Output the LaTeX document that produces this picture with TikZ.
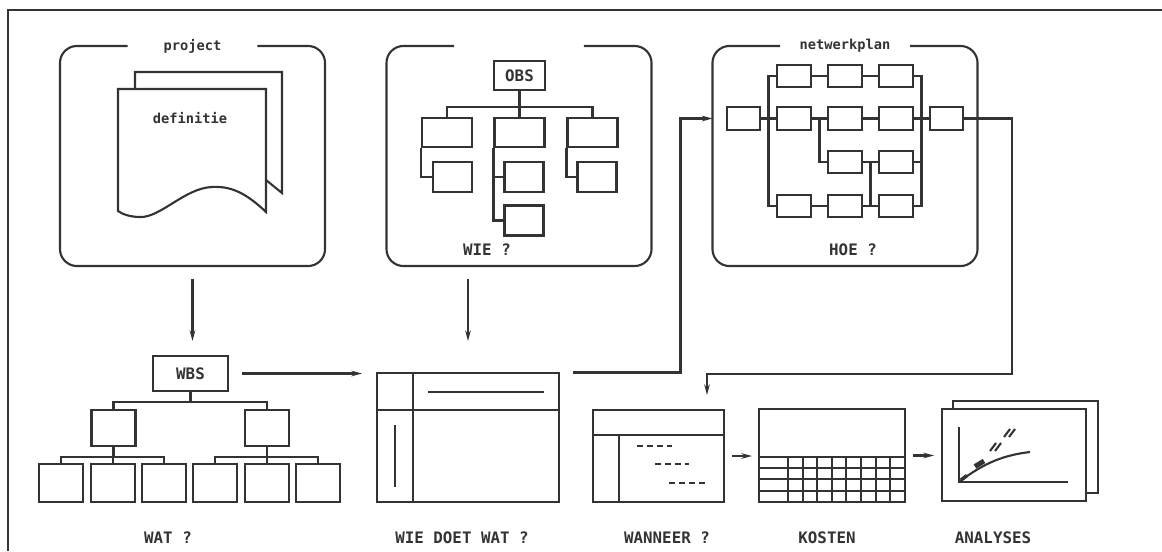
\documentclass[tikz,border=0pt]{standalone}
\usepackage{fontspec}
\setmainfont{DejaVu Sans Mono}
\usetikzlibrary{arrows.meta,calc}

\definecolor{lijn}{HTML}{333333}
\newcommand{\klein}{\fontsize{7.8pt}{9pt}\selectfont\bfseries}
\newcommand{\groot}{\fontsize{9pt}{11pt}\selectfont\bfseries}

\begin{document}
\begin{tikzpicture}[x=0.02cm,y=-0.02cm,color=lijn,line width=1.2pt,
  vak/.style={minimum width=5.26cm,minimum height=4.36cm,inner sep=0pt},
  blok/.style={draw,inner sep=0pt,minimum width=0.88cm,minimum height=0.74cm},
  kop/.style={draw,inner sep=0pt,minimum width=1.5cm,minimum height=0.7cm,font=\groot},
  obsblok/.style={draw,inner sep=0pt,minimum width=1cm,minimum height=0.58cm},
  subblok/.style={draw,inner sep=0pt,minimum width=0.78cm,minimum height=0.6cm},
  stap/.style={draw,inner sep=0pt,minimum width=0.67cm,minimum height=0.45cm},
  scherm/.style={draw,inner sep=0pt},
  titel/.style={font=\klein},
  vraag/.style={font=\groot},
  onder/.style={font=\groot},
  pijl/.style={-{Stealth[length=6pt,width=3.2pt]}}]

  \useasboundingbox (0,0) rectangle (1162,551);

  % kader
  \draw (8,551) -- (8,10) -- (1162,10);

  % drie vakken boven
  \node[vak] (project) at (192.5,156) {};
  \node[vak] (wie) at (519,156) {};
  \node[vak] (netwerk) at (845,156) {};
  \foreach \v in {project,wie,netwerk}
    \draw[rounded corners=0.34cm] ([xshift=-1.3cm]\v.north) -| (\v.south west)
      -| (\v.north east) -- ([xshift=1.3cm]\v.north);
  \node[titel] (t-project) at (project.north) {project};
  \node[titel] (t-netwerk) at (netwerk.north) {netwerkplan};

  % projectdefinitie
  \draw (135,89) -- (135,72) -- (282,72) -- (282,193) -- (266,180);
  \draw (118,89) -- (266,89) -- (266,212)
    .. controls (245,192) and (230,186) .. (212,187)
    .. controls (185,188) and (160,218) .. (140,217)
    .. controls (130,217) and (122,214) .. (118,211) -- cycle;
  \node[titel] (definitie) at (190,118) {definitie};

  % OBS
  \node[kop,minimum width=1.02cm,minimum height=0.58cm] (obs) at (519.5,75.5) {OBS};
  \node[obsblok] (o1) at (447,132.5) {};
  \node[obsblok] (o2) at (519.5,132.5) {};
  \node[obsblok] (o3) at (592.5,132.5) {};
  \foreach \o in {o1,o2,o3}
    \draw (obs.south) -- ++(0,16) -| (\o.north);
  \node[subblok] (o1a) at (452.5,177) {};
  \node[subblok] (o2a) at (524,177) {};
  \node[subblok] (o2b) at (524,220.5) {};
  \node[subblok] (o3a) at (597,177) {};
  \draw (o1.south west) |- (o1a.west);
  \draw (o2.south west) |- (o2a.west);
  \draw (o2.south west) |- (o2b.west);
  \draw (o3.south west) |- (o3a.west);
  \node[vraag] (wie-vraag) at (487,250) {WIE ?};

  % netwerkplan
  \node[stap] (nstart) at (743.5,118.5) {};
  \node[stap] (a1) at (794,76) {};
  \node[stap] (a2) at (845,76) {};
  \node[stap] (a3) at (896,76) {};
  \node[stap] (b1) at (794,118.5) {};
  \node[stap] (b2) at (845,118.5) {};
  \node[stap] (b3) at (896,118.5) {};
  \node[stap] (c2) at (845,162) {};
  \node[stap] (c3) at (896,162) {};
  \node[stap] (d1) at (794,206) {};
  \node[stap] (d2) at (845,206) {};
  \node[stap] (d3) at (896,206) {};
  \node[stap] (neind) at (946.5,118.5) {};
  \coordinate (links) at (768.5,118.5);
  \coordinate (rechts) at (921.5,118.5);
  \coordinate (splits1) at (819.5,118.5);
  \coordinate (splits2) at (870.5,162);
  \draw (nstart) -- (b1) -- (b2) -- (b3) -- (neind);
  \draw (a1) -- (a2) -- (a3);
  \draw (d1) -- (d2) -- (d3);
  \draw (c2) -- (c3);
  \draw (a1.west) -| (links) |- (d1.west);
  \draw (a3.east) -| (rechts) |- (d3.east);
  \draw (c3.east) -- (c3.east -| rechts);
  \draw (splits1) |- (c2.west);
  \draw (splits2) -- (splits2 |- d2.east);
  \node[vraag] (hoe-vraag) at (853,250) {HOE ?};

  % WBS
  \node[kop] (wbs) at (190.5,373.5) {WBS};
  \node[blok,minimum height=0.72cm] (w1) at (113.5,428) {};
  \node[blok,minimum height=0.72cm] (w2) at (267,428) {};
  \foreach \w in {w1,w2}
    \draw (wbs.south) -- ++(0,10) -| (\w.north);
  \foreach \x/\n in {61/1,113/2,164/3}
    \node[blok,minimum height=0.76cm] (w1\n) at (\x,483) {};
  \foreach \x/\n in {215/1,267/2,318/3}
    \node[blok,minimum height=0.76cm] (w2\n) at (\x,483) {};
  \foreach \n in {1,2,3} {
    \draw (w1.south) -- ++(0,10) -| (w1\n.north);
    \draw (w2.south) -- ++(0,10) -| (w2\n.north);
  }

  % wie doet wat
  \node[scherm,minimum width=3.64cm,minimum height=2.58cm] (tabel) at (468,437.5) {};
  \draw (413,373) -- (413,502);
  \draw (377,410) -- (559,410);
  \draw (428,392) -- (544,392);
  \draw (395,425) -- (395,487);

  % planning
  \node[scherm,minimum width=2.62cm,minimum height=1.84cm] (planning) at (658.5,456) {};
  \draw (593,435) -- (724,435);
  \draw (619,435) -- (619,502);
  \draw[dash pattern=on 0.12cm off 0.08cm] (637,446) -- (672,446);
  \draw[dash pattern=on 0.12cm off 0.08cm] (655,464) -- (689,464);
  \draw[dash pattern=on 0.12cm off 0.08cm] (669,483) -- (705,483);

  % kosten
  \node[scherm,minimum width=2.92cm,minimum height=1.86cm] (kosten) at (832,455.5) {};
  \foreach \y in {457,468,479,491}
    \draw (759,\y) -- (905,\y);
  \foreach \i in {0,...,7}
    \draw (788+\i*14.6,457) -- (788+\i*14.6,502);

  % analyses
  \draw (953,401) rectangle (1098,493);
  \node[scherm,fill=white,minimum width=2.88cm,minimum height=1.84cm] (analyses) at (1014,455) {};
  \draw (959,427) |- (1068,482);
  \draw (959,482) .. controls (985,462) and (1005,455) .. (1030,452);
  \draw[line width=2.8pt] (975,466.5) -- (984,461);
  \draw[line width=2pt] (961,480) -- (967,475.5);
  \foreach \dx in {0,5} {
    \draw (990+\dx,451) -- (996+\dx,443);
    \draw (1004+\dx,437) -- (1010+\dx,429);
  }

  % pijlen
  \draw[pijl,shorten <=0.26cm,shorten >=0.28cm] (project.south) -- (project.south |- wbs.north);
  \draw[pijl,shorten <=0.26cm,shorten >=0.62cm] (tabel.north |- wie.south) -- (tabel.north);
  \draw[pijl,shorten <=0.26cm,shorten >=0.28cm] (wbs.east) -- (wbs.east -| tabel.west);
  \draw[pijl] ($(tabel.north east)+(13,0.5)$) -| ($(netwerk.west |- nstart)+(-32,0)$)
    -- (netwerk.west |- nstart);
  \coordinate (uitloop) at (1012,374);
  \coordinate (inloop) at (707,395);
  \draw[pijl] (neind.east) -| (uitloop) -| (inloop);
  \draw[pijl,shorten <=0.14cm,shorten >=0.12cm] (planning.east) -- (planning.east -| kosten.west);
  \draw[pijl,shorten <=0.14cm,shorten >=0.14cm] (kosten.east) -- (kosten.east -| analyses.west);

  % onderschriften
  \node[onder] (wat) at (168,538) {WAT ?};
  \node[onder] (wiedoet) at (462,538) {WIE DOET WAT ?};
  \node[onder] (wanneer) at (667,538) {WANNEER ?};
  \node[onder] (kst) at (827,538) {KOSTEN};
  \node[onder] (ana) at (993,538) {ANALYSES};

\end{tikzpicture}
\end{document}
